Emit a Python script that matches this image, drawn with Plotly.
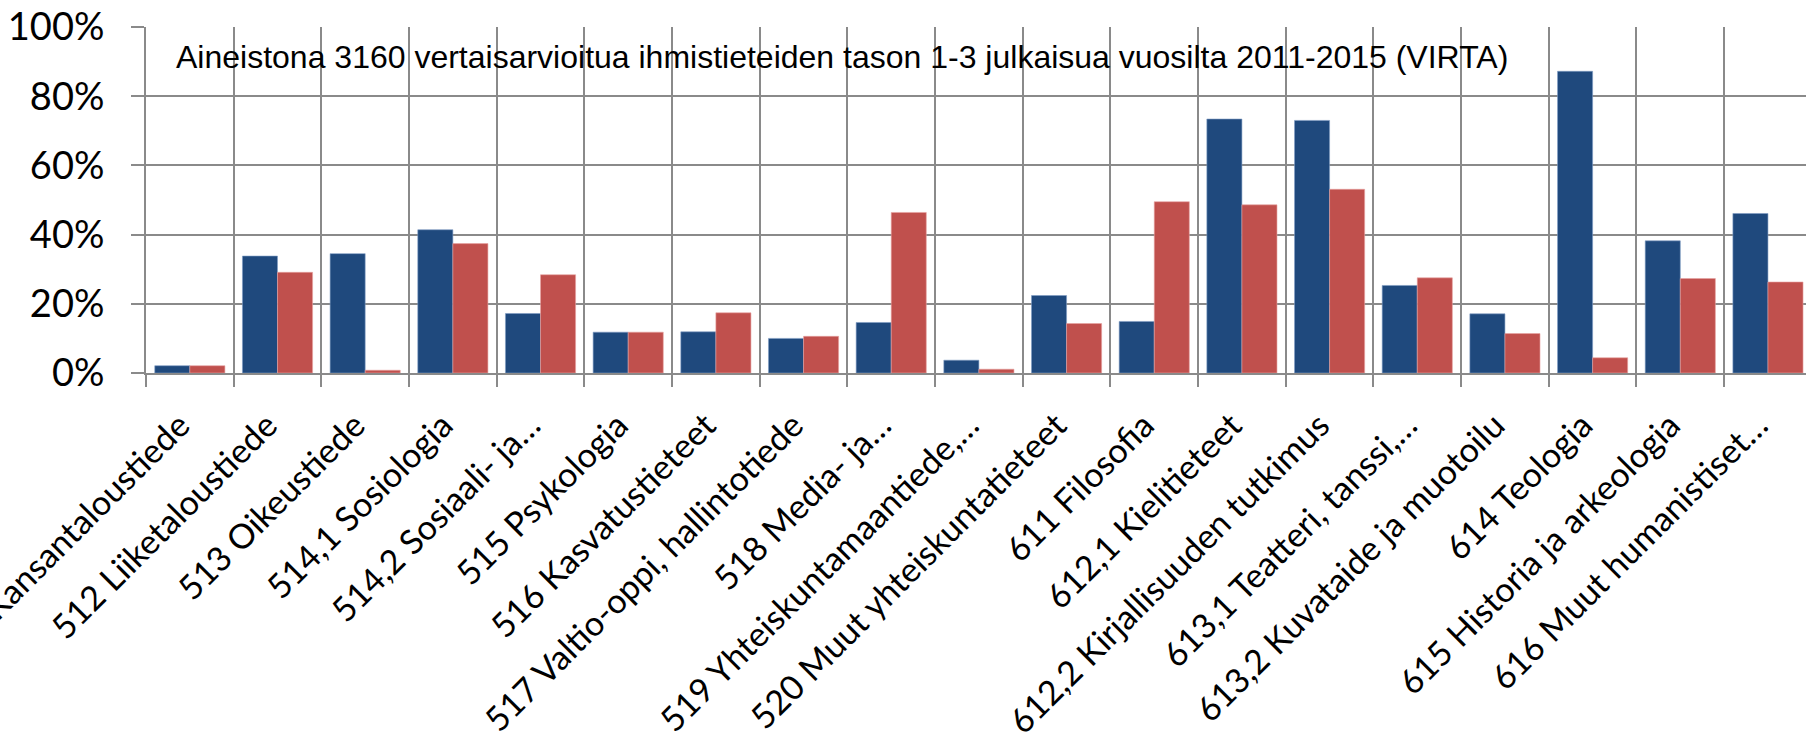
import plotly.graph_objects as go

categories = [
    "511 Kansantaloustiede", "512 Liiketaloustiede", "513 Oikeustiede",
    "514,1 Sosiologia", "514,2 Sosiaali- ja…", "515 Psykologia",
    "516 Kasvatustieteet", "517 Valtio-oppi, hallintotiede", "518 Media- ja…",
    "519 Yhteiskuntamaantiede,…", "520 Muut yhteiskuntatieteet", "611 Filosofia",
    "612,1 Kielitieteet", "612,2 Kirjallisuuden tutkimus", "613,1 Teatteri, tanssi,…",
    "613,2 Kuvataide ja muotoilu", "614 Teologia", "615 Historia ja arkeologia",
    "616 Muut humanistiset…",
]
series_blue = [0.021, 0.338, 0.345, 0.414, 0.172, 0.118, 0.119, 0.100, 0.146, 0.037,
               0.224, 0.149, 0.734, 0.730, 0.253, 0.171, 0.872, 0.382, 0.461]
series_red = [0.021, 0.291, 0.008, 0.374, 0.284, 0.118, 0.174, 0.106, 0.464, 0.011,
              0.143, 0.495, 0.486, 0.531, 0.275, 0.114, 0.044, 0.273, 0.263]
y_ticks = [0, 0.2, 0.4, 0.6, 0.8, 1.0]
y_tick_labels = ["0%", "20%", "40%", "60%", "80%", "100%"]
note = "Aineistona 3160 vertaisarvioitua ihmistieteiden tason 1-3 julkaisua vuosilta 2011-2015 (VIRTA)"

W, H = 1806, 732
left, top, bottom_px = 145.5, 26.7, 372.7
cat_w = 87.7
n = len(categories)
visible = (W - left) / cat_w

grid = "#8a8a8a"
fig = go.Figure()
fig.add_trace(go.Bar(x=categories, y=series_blue,
                     marker=dict(color="#1F497D", line=dict(color="#7f9cc4", width=0.6)),
                     showlegend=False))
fig.add_trace(go.Bar(x=categories, y=series_red,
                     marker=dict(color="#C0504D", line=dict(color="#e8a3a1", width=0.6)),
                     showlegend=False))

fig.update_layout(
    width=W, height=H,
    margin=dict(l=left, r=0, t=top, b=H - bottom_px, pad=0),
    plot_bgcolor="white", paper_bgcolor="white",
    barmode="group", bargap=0.2, bargroupgap=0,
    font=dict(family="Lato", color="black"),
)
fig.update_xaxes(
    type="category", range=[-0.5, -0.5 + visible],
    tickangle=-45, tickfont=dict(size=34, family="Lato"),
    tickson="boundaries", ticklabeloverflow="allow",
    ticklabelstandoff=17, ticklabelshift=-10,
    showgrid=True, gridcolor=grid, gridwidth=2,
    showline=True, linecolor=grid, linewidth=2,
    ticks="outside", ticklen=12, tickcolor=grid, tickwidth=2,
    automargin=False, zeroline=False,
)
fig.update_yaxes(
    range=[0, 1], tickmode="array", tickvals=y_ticks, ticktext=y_tick_labels,
    tickfont=dict(size=38, family="Lato"),
    showgrid=True, gridcolor=grid, gridwidth=2,
    showline=True, linecolor=grid, linewidth=2,
    ticks="outside", ticklen=13, tickcolor=grid, tickwidth=2,
    ticklabelstandoff=19, automargin=False, zeroline=False,
)
fig.add_annotation(
    text=note, xref="paper", yref="paper",
    x=(174 - left) / (W - left), y=1 - (57 - top) / (bottom_px - top),
    xanchor="left", yanchor="middle", showarrow=False,
    font=dict(family="Liberation Sans", size=32, color="black"),
)
fig.write_html("out.html", config={"displayModeBar": False},
               post_script="document.body.style.margin='0';document.body.style.overflow='hidden';")
